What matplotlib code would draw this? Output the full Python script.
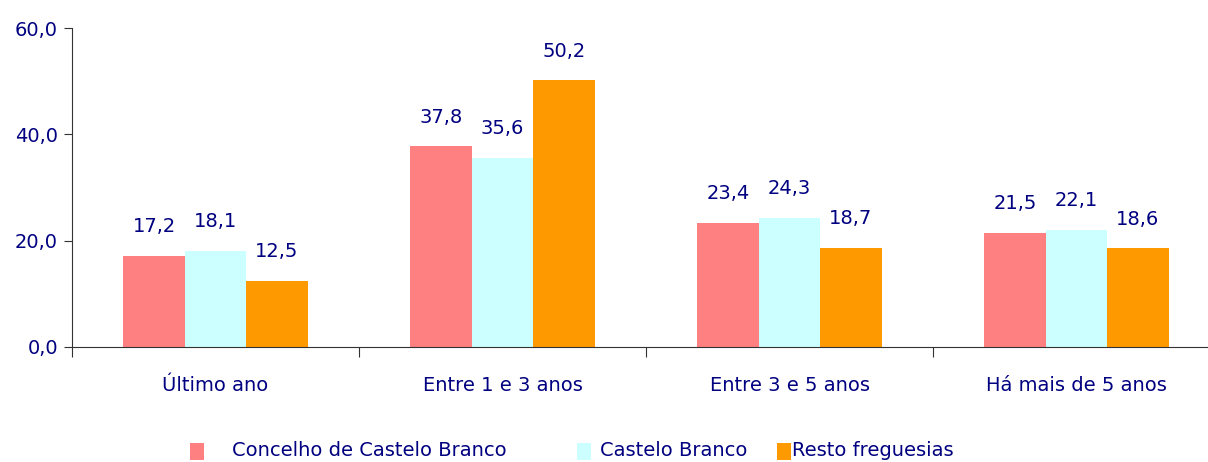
import matplotlib
matplotlib.use("Agg")
import matplotlib.pyplot as plt
from matplotlib.patches import Rectangle
import numpy as np

categories = ["Último ano", "Entre 1 e 3 anos", "Entre 3 e 5 anos", "Há mais de 5 anos"]
series_names = ["Concelho de Castelo Branco", "Castelo Branco", "Resto freguesias"]
concelho = [17.2, 37.8, 23.4, 21.5]
castelo = [18.1, 35.6, 24.3, 22.1]
resto = [12.5, 50.2, 18.7, 18.6]
colors = ["#FF8080", "#CCFFFF", "#FF9900"]
yticks = [0, 20, 40, 60]

navy = "#000080"
W, H = 1208, 462
fig = plt.figure(figsize=(W / 100, H / 100), dpi=100)
ax = fig.add_axes([72 / W, (H - 347) / H, (1220 - 72) / W, (347 - 28) / H])

x = np.arange(len(categories))
bw = 0.214
for i, (vals, c) in enumerate(zip([concelho, castelo, resto], colors)):
    pos = x + (i - 1) * bw
    ax.bar(pos, vals, width=bw, color=c, edgecolor="none")
    for xp, v in zip(pos, vals):
        ax.annotate(f"{v:.1f}".replace(".", ","), (xp, v), xytext=(0, 14),
                    textcoords="offset points", ha="center", va="bottom",
                    color=navy, fontsize=14)

ax.set_xlim(-0.5, len(categories) - 0.5)
ax.set_ylim(0, 60)
ax.set_yticks(yticks)
ax.set_yticklabels([f"{t:.1f}".replace(".", ",") for t in yticks], color=navy, fontsize=14)
ax.set_xticks(np.arange(len(categories) + 1) - 0.5)
ax.set_xticklabels([])
ax.set_xticks(x, minor=True)
ax.set_xticklabels(categories, minor=True, color=navy, fontsize=14)
ax.tick_params(axis="x", which="minor", length=0, pad=21)
ax.tick_params(axis="x", which="major", length=7, direction="out", color="#333333")
ax.tick_params(axis="y", length=6, direction="out", color="#333333", pad=4)
for s in ["top", "right"]:
    ax.spines[s].set_visible(False)
for s in ["left", "bottom"]:
    ax.spines[s].set_color("#333333")

# legend
leg = [(190, 232), (577, 600), (777, 792)]
for (mx, tx), name, c in zip(leg, series_names, colors):
    fig.patches.append(Rectangle((mx / W, (H - 460) / H), 14 / W, 17 / H,
                                 transform=fig.transFigure, color=c, ec="none"))
    fig.text(tx / W, (H - 451) / H, name, color=navy, fontsize=14, va="center", ha="left")

fig.savefig("out.png", dpi=100)
